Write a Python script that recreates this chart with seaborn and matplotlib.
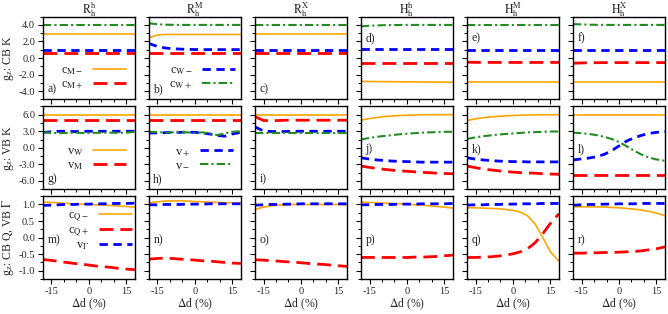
import numpy as np
import pandas as pd
import matplotlib
matplotlib.use('Agg')
import matplotlib.pyplot as plt
from matplotlib.ticker import MultipleLocator, FormatStrFormatter
import seaborn as sns

# strain values (%)
dd = [-18.5, -15, -12, -9, -6, -3, 0, 3, 6, 9, 12, 15, 18.5]

col_titles = [r'$\mathrm{R_h^h}$', r'$\mathrm{R_h^M}$', r'$\mathrm{R_h^X}$',
              r'$\mathrm{H_h^h}$', r'$\mathrm{H_h^M}$', r'$\mathrm{H_h^X}$']
row_labels = [r'g$_\mathrm{z}$: CB K', r'g$_\mathrm{z}$: VB K', r'g$_\mathrm{z}$: CB Q, VB $\Gamma$']
panel_tags = list('abcdefghijklmnopqr')

# ---- row 1 : CB K  (c_M-, c_M+, c_W-, c_W+)
a_cm_minus = [2.85, 2.85, 2.85, 2.85, 2.85, 2.85, 2.85, 2.85, 2.85, 2.85, 2.85, 2.85, 2.85]
a_cm_plus = [0.55, 0.55, 0.55, 0.55, 0.55, 0.55, 0.55, 0.55, 0.55, 0.55, 0.55, 0.55, 0.55]
a_cw_minus = [1.02, 1.02, 1.02, 1.02, 1.02, 1.02, 1.02, 1.02, 1.02, 1.02, 1.02, 1.02, 1.02]
a_cw_plus = [4.0, 4.0, 4.0, 4.0, 4.0, 4.0, 4.0, 4.0, 4.0, 4.0, 4.0, 4.0, 4.0]

b_cm_minus = [2.45, 2.78, 2.84, 2.85, 2.85, 2.85, 2.85, 2.85, 2.85, 2.85, 2.85, 2.85, 2.85]
b_cm_plus = [0.55, 0.55, 0.55, 0.55, 0.55, 0.55, 0.55, 0.55, 0.55, 0.55, 0.55, 0.55, 0.55]
b_cw_minus = [1.76, 1.4, 1.22, 1.13, 1.08, 1.05, 1.03, 1.02, 1.02, 1.02, 1.02, 1.02, 1.02]
b_cw_plus = [4.2, 4.08, 4.03, 4.01, 4.0, 4.0, 4.0, 4.0, 4.0, 4.0, 4.0, 4.0, 4.0]

c_cm_minus = [2.85, 2.85, 2.85, 2.85, 2.85, 2.85, 2.85, 2.85, 2.85, 2.85, 2.85, 2.85, 2.85]
c_cm_plus = [0.55, 0.55, 0.55, 0.55, 0.55, 0.55, 0.55, 0.55, 0.55, 0.55, 0.55, 0.55, 0.55]
c_cw_minus = [1.02, 1.02, 1.02, 1.02, 1.02, 1.02, 1.02, 1.02, 1.02, 1.02, 1.02, 1.02, 1.02]
c_cw_plus = [4.0, 4.0, 4.0, 4.0, 4.0, 4.0, 4.0, 4.0, 4.0, 4.0, 4.0, 4.0, 4.0]

d_cm_minus = [-2.82, -2.83, -2.84, -2.85, -2.86, -2.87, -2.88, -2.88, -2.89, -2.9, -2.9, -2.91, -2.92]
d_cm_plus = [-0.55, -0.55, -0.55, -0.55, -0.55, -0.55, -0.55, -0.55, -0.55, -0.55, -0.55, -0.55, -0.55]
d_cw_minus = [1.06, 1.06, 1.06, 1.06, 1.06, 1.06, 1.06, 1.06, 1.06, 1.06, 1.06, 1.06, 1.06]
d_cw_plus = [3.82, 3.9, 3.94, 3.97, 3.98, 3.99, 4.0, 4.0, 4.0, 4.0, 4.0, 4.0, 4.0]

e_cm_minus = [-2.85, -2.85, -2.85, -2.85, -2.85, -2.85, -2.85, -2.85, -2.85, -2.85, -2.85, -2.85, -2.85]
e_cm_plus = [-0.5, -0.52, -0.53, -0.53, -0.53, -0.53, -0.53, -0.53, -0.53, -0.53, -0.53, -0.53, -0.53]
e_cw_minus = [1.02, 1.02, 1.02, 1.02, 1.02, 1.02, 1.02, 1.02, 1.02, 1.02, 1.02, 1.02, 1.02]
e_cw_plus = [4.03, 4.03, 4.03, 4.03, 4.03, 4.03, 4.03, 4.03, 4.03, 4.03, 4.03, 4.03, 4.03]

f_cm_minus = [-2.85, -2.85, -2.85, -2.85, -2.85, -2.85, -2.85, -2.85, -2.85, -2.85, -2.85, -2.85, -2.85]
f_cm_plus = [-0.62, -0.59, -0.57, -0.56, -0.55, -0.55, -0.55, -0.55, -0.55, -0.55, -0.55, -0.55, -0.55]
f_cw_minus = [1.02, 1.02, 1.02, 1.02, 1.02, 1.02, 1.02, 1.02, 1.02, 1.02, 1.02, 1.02, 1.02]
f_cw_plus = [4.1, 4.06, 4.03, 4.01, 4.0, 4.0, 4.0, 4.0, 4.0, 4.0, 4.0, 4.0, 4.0]

# ---- row 2 : VB K  (v_W, v_M, v_+, v_-)
g_vw = [6.0, 6.0, 6.0, 6.0, 6.0, 6.0, 6.0, 6.0, 6.0, 6.0, 6.0, 6.0, 6.0]
g_vm = [5.0, 5.0, 5.0, 5.0, 5.0, 5.0, 5.0, 5.0, 5.0, 5.0, 5.0, 5.0, 5.0]
g_vplus = [2.8, 2.9, 3.0, 3.0, 2.95, 2.95, 3.0, 3.0, 3.0, 3.0, 3.0, 3.0, 3.0]
g_vminus = [2.85, 2.7, 2.65, 2.7, 2.75, 2.7, 2.7, 2.72, 2.75, 2.75, 2.7, 2.75, 2.9]

h_vw = [6.0, 6.0, 6.0, 6.0, 6.0, 6.0, 6.0, 6.0, 6.0, 6.0, 6.0, 6.0, 6.0]
h_vm = [5.0, 5.0, 5.0, 5.0, 5.0, 5.0, 5.0, 5.0, 5.0, 5.0, 5.0, 5.0, 5.0]
h_vplus = [2.7, 2.7, 2.75, 2.8, 2.8, 2.85, 2.8, 2.7, 2.5, 2.25, 2.1, 2.5, 2.8]
h_vminus = [2.9, 2.85, 2.75, 2.8, 2.9, 2.8, 2.7, 2.8, 2.6, 2.3, 2.6, 2.9, 3.0]

i_vw = [6.0, 6.0, 6.0, 6.0, 6.0, 6.0, 6.0, 6.0, 6.0, 6.0, 6.0, 6.0, 6.0]
i_vm = [5.65, 4.95, 4.9, 4.95, 5.0, 5.0, 5.0, 5.0, 5.0, 5.0, 5.0, 5.0, 5.0]
i_vplus = [3.8, 3.05, 2.95, 2.95, 2.97, 3.0, 3.0, 3.0, 3.0, 3.0, 3.0, 3.0, 3.0]
i_vminus = [2.7, 2.7, 2.7, 2.7, 2.7, 2.7, 2.7, 2.7, 2.7, 2.7, 2.7, 2.7, 2.7]

j_vw = [5.0, 5.3, 5.5, 5.65, 5.75, 5.85, 5.9, 5.95, 6.0, 6.0, 6.0, 6.0, 6.0]
j_vm = [-3.3, -3.55, -3.75, -3.9, -4.05, -4.15, -4.25, -4.35, -4.45, -4.5, -4.6, -4.65, -4.7]
j_vplus = [-1.8, -2.05, -2.2, -2.3, -2.4, -2.45, -2.5, -2.55, -2.6, -2.6, -2.6, -2.6, -2.6]
j_vminus = [1.5, 1.8, 2.0, 2.15, 2.3, 2.45, 2.55, 2.65, 2.75, 2.8, 2.85, 2.9, 2.9]

k_vw = [4.95, 5.25, 5.45, 5.6, 5.7, 5.8, 5.85, 5.9, 5.95, 5.97, 6.0, 6.0, 6.0]
k_vm = [-3.3, -3.6, -3.85, -4.0, -4.15, -4.3, -4.4, -4.5, -4.55, -4.6, -4.7, -4.75, -4.8]
k_vplus = [-1.8, -2.05, -2.2, -2.3, -2.4, -2.45, -2.5, -2.5, -2.55, -2.55, -2.55, -2.55, -2.55]
k_vminus = [1.6, 1.9, 2.1, 2.25, 2.4, 2.5, 2.6, 2.7, 2.8, 2.85, 2.9, 2.95, 2.95]

l_vw = [6.0, 6.0, 6.0, 6.0, 6.0, 6.0, 6.0, 6.0, 6.0, 6.0, 6.0, 6.0, 6.0]
l_vm = [-5.0, -5.0, -5.0, -5.0, -5.0, -5.0, -5.0, -5.0, -5.0, -5.0, -5.0, -5.0, -5.0]
l_vplus = [-2.2, -2.0, -1.85, -1.6, -1.2, -0.55, 0.35, 1.2, 1.8, 2.25, 2.6, 2.8, 2.95]
l_vminus = [2.75, 2.65, 2.5, 2.3, 2.0, 1.6, 1.05, 0.3, -0.5, -1.2, -1.75, -2.1, -2.35]

# ---- row 3 : CB Q, VB Gamma  (c_Q-, c_Q+, v_Gamma)
m_cq_minus = [1.07, 1.06, 1.05, 1.03, 1.02, 1.01, 1.0, 0.99, 0.98, 0.97, 0.95, 0.94, 0.92]
m_cq_plus = [-0.66, -0.69, -0.72, -0.75, -0.78, -0.8, -0.83, -0.86, -0.88, -0.9, -0.93, -0.95, -0.97]
m_vgamma = [0.97, 0.98, 0.99, 1.0, 1.0, 1.01, 1.01, 1.02, 1.02, 1.03, 1.03, 1.03, 1.04]

n_cq_minus = [1.05, 1.08, 1.1, 1.11, 1.11, 1.1, 1.09, 1.08, 1.07, 1.06, 1.05, 1.05, 1.04]
n_cq_plus = [-0.65, -0.63, -0.62, -0.63, -0.65, -0.66, -0.68, -0.7, -0.71, -0.73, -0.75, -0.77, -0.78]
n_vgamma = [0.99, 0.99, 1.0, 1.0, 1.0, 1.01, 1.01, 1.01, 1.02, 1.02, 1.02, 1.02, 1.02]

o_cq_minus = [0.85, 0.92, 0.96, 0.98, 0.99, 1.0, 1.0, 1.0, 1.0, 1.0, 1.0, 1.0, 0.99]
o_cq_plus = [-0.67, -0.68, -0.7, -0.71, -0.73, -0.74, -0.76, -0.78, -0.8, -0.81, -0.83, -0.85, -0.87]
o_vgamma = [0.98, 0.99, 1.0, 1.0, 1.01, 1.01, 1.02, 1.02, 1.02, 1.02, 1.02, 1.02, 1.02]

p_cq_minus = [1.07, 1.06, 1.05, 1.04, 1.03, 1.02, 1.01, 0.99, 0.98, 0.96, 0.94, 0.92, 0.89]
p_cq_plus = [-0.6, -0.6, -0.6, -0.6, -0.6, -0.6, -0.6, -0.59, -0.59, -0.58, -0.57, -0.55, -0.53]
p_vgamma = [0.99, 0.99, 1.0, 1.0, 1.0, 1.01, 1.01, 1.01, 1.02, 1.02, 1.02, 1.02, 1.03]

q_cq_minus = [0.9, 0.9, 0.89, 0.88, 0.87, 0.85, 0.82, 0.77, 0.65, 0.4, 0.0, -0.42, -0.72]
q_cq_plus = [-0.6, -0.6, -0.59, -0.58, -0.56, -0.53, -0.49, -0.43, -0.33, -0.15, 0.12, 0.42, 0.72]
q_vgamma = [0.98, 0.99, 0.99, 1.0, 1.0, 1.01, 1.01, 1.02, 1.02, 1.02, 1.03, 1.03, 1.03]

r_cq_minus = [0.93, 0.93, 0.93, 0.93, 0.92, 0.91, 0.9, 0.88, 0.86, 0.83, 0.79, 0.74, 0.66]
r_cq_plus = [-0.47, -0.47, -0.46, -0.46, -0.45, -0.45, -0.44, -0.43, -0.42, -0.4, -0.37, -0.34, -0.28]
r_vgamma = [0.98, 0.99, 1.0, 1.0, 1.01, 1.01, 1.02, 1.02, 1.02, 1.03, 1.03, 1.03, 1.03]

# line styles
ORANGE = dict(color='#FFA500', lw=1.2, ls='-')
RED = dict(color='#FF0000', lw=2.0, ls=(0, (5, 2.5)))
BLUE = dict(color='#0000FF', lw=2.0, ls=(0, (3, 2)))
GREEN = dict(color='#228B22', lw=1.5, ls=(0, (4, 1.5, 1, 1.5)))

row1 = [
    (a_cm_minus, a_cm_plus, a_cw_minus, a_cw_plus),
    (b_cm_minus, b_cm_plus, b_cw_minus, b_cw_plus),
    (c_cm_minus, c_cm_plus, c_cw_minus, c_cw_plus),
    (d_cm_minus, d_cm_plus, d_cw_minus, d_cw_plus),
    (e_cm_minus, e_cm_plus, e_cw_minus, e_cw_plus),
    (f_cm_minus, f_cm_plus, f_cw_minus, f_cw_plus),
]
row2 = [
    (g_vw, g_vm, g_vplus, g_vminus),
    (h_vw, h_vm, h_vplus, h_vminus),
    (i_vw, i_vm, i_vplus, i_vminus),
    (j_vw, j_vm, j_vplus, j_vminus),
    (k_vw, k_vm, k_vplus, k_vminus),
    (l_vw, l_vm, l_vplus, l_vminus),
]
row3 = [
    (m_cq_minus, m_cq_plus, m_vgamma),
    (n_cq_minus, n_cq_plus, n_vgamma),
    (o_cq_minus, o_cq_plus, o_vgamma),
    (p_cq_minus, p_cq_plus, p_vgamma),
    (q_cq_minus, q_cq_plus, q_vgamma),
    (r_cq_minus, r_cq_plus, r_vgamma),
]
rows = [row1, row2, row3]
row_styles = [[ORANGE, RED, BLUE, GREEN], [ORANGE, RED, BLUE, GREEN], [ORANGE, RED, BLUE]]
row_lims = [(-5, 5), (-7.5, 7.5), (-1.25, 1.25)]
row_major = [2.0, 3.0, 0.5]
row_minor = [1.0, 1.5, 0.25]
tag_y = [[0.12] * 3 + [0.74] * 3, [0.12] * 3 + [0.48] * 3, [0.47] * 6]

sns.set_theme(style='ticks')
plt.rcParams['font.family'] = ['Liberation Serif', 'DejaVu Serif']
plt.rcParams['mathtext.fontset'] = 'stix'
plt.rcParams['axes.unicode_minus'] = False
plt.rcParams['axes.edgecolor'] = 'black'
plt.rcParams['axes.linewidth'] = 1.0

fig, axes = plt.subplots(3, 6, figsize=(6.68, 3.14), dpi=100, sharex=True)
fig.subplots_adjust(left=0.064, right=0.9955, top=0.947, bottom=0.1115,
                    wspace=0.152, hspace=0.084)

for r in range(3):
    for c in range(6):
        ax = axes[r, c]
        for vals, st in zip(rows[r][c], row_styles[r]):
            df = pd.DataFrame({'dd': dd, 'g': vals})
            sns.lineplot(data=df, x='dd', y='g', ax=ax, color=st['color'],
                         linewidth=st['lw'], linestyle=st['ls'])
        ax.set_xlim(-18.5, 18.5)
        ax.set_ylim(*row_lims[r])
        ax.xaxis.set_major_locator(MultipleLocator(15))
        ax.xaxis.set_minor_locator(MultipleLocator(5))
        ax.yaxis.set_major_locator(MultipleLocator(row_major[r]))
        ax.yaxis.set_minor_locator(MultipleLocator(row_minor[r]))
        ax.yaxis.set_major_formatter(FormatStrFormatter('%.1f'))
        ax.tick_params(which='major', direction='out', length=3.5, width=0.8,
                       labelsize=7.5, pad=2, color='black')
        ax.tick_params(which='minor', direction='out', length=2, width=0.7, color='black')
        ax.set_xlabel('')
        ax.set_ylabel('')
        if c != 0:
            ax.tick_params(axis='y', labelleft=False)
        else:
            ax.set_ylabel(row_labels[r], fontsize=8.5, labelpad=2)
        if r == 2:
            ax.set_xlabel(r'$\Delta$d (%)', fontsize=8.5, labelpad=1)
        if r == 0:
            # column title placed by hand so it sits just above the frame
            ax.text(0.5, 1.045, col_titles[c], transform=ax.transAxes,
                    fontsize=8.6, ha='center', va='baseline')
        ax.text(0.05, tag_y[r][c], panel_tags[r * 6 + c] + ')', transform=ax.transAxes,
                fontsize=8.5, va='center', ha='left')

leg_kw = dict(frameon=False, markerfirst=False, handlelength=2.6, handletextpad=0.8,
              labelspacing=0.05, borderpad=0, fontsize=9, loc='center')


def add_legend(ax, idx, labels, anchor):
    lines = [ax.lines[i] for i in idx]
    ax.legend(lines, labels, bbox_to_anchor=anchor, **leg_kw)


add_legend(axes[0, 0], [0, 1], [r'c$_\mathrm{M-}$', r'c$_\mathrm{M+}$'], (0.55, 0.26))
add_legend(axes[0, 1], [2, 3], [r'c$_\mathrm{W-}$', r'c$_\mathrm{W+}$'], (0.58, 0.26))
add_legend(axes[1, 0], [0, 1], [r'v$_\mathrm{W}$', r'v$_\mathrm{M}$'], (0.58, 0.37))
add_legend(axes[1, 1], [2, 3], [r'v$_+$', r'v$_-$'], (0.6, 0.37))
add_legend(axes[2, 0], [0, 1, 2], [r'c$_\mathrm{Q-}$', r'c$_\mathrm{Q+}$', r'v$_\Gamma$'], (0.62, 0.58))

fig.savefig('out.png', dpi=100)
